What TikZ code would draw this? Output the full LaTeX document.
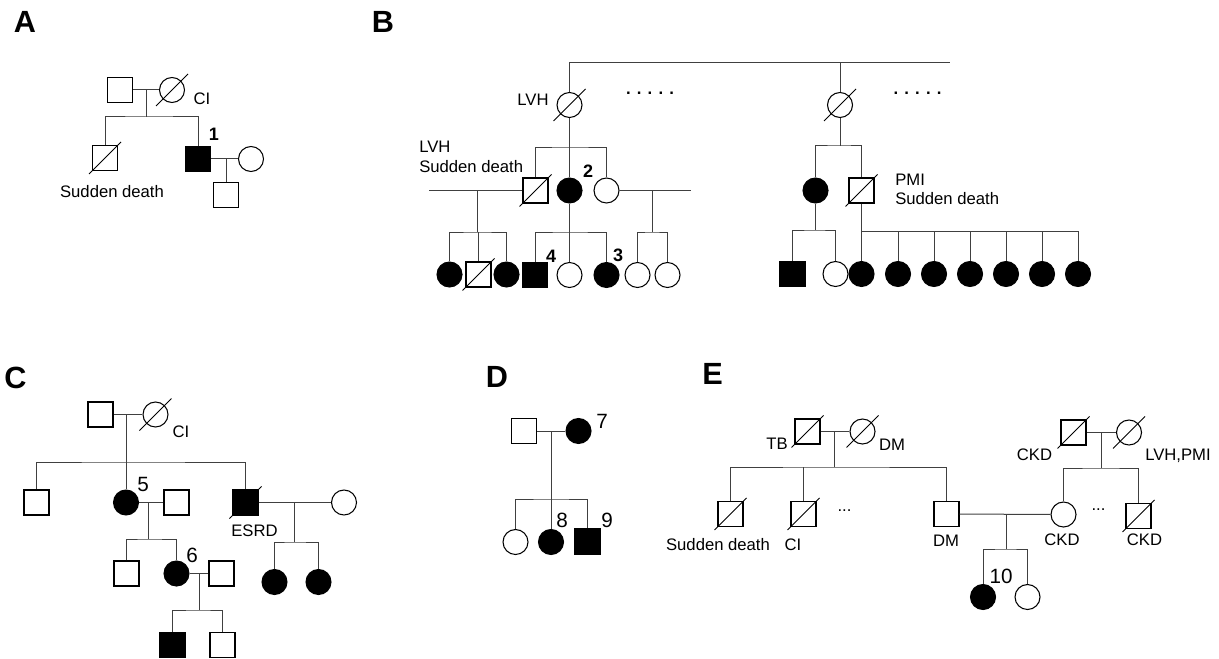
\documentclass[tikz,border=0pt]{standalone}
\usepackage{fontspec}
\setmainfont{Liberation Sans}
\tikzset{
  ind/.style={draw=black, line width=0.8pt, minimum size=18.75pt, inner sep=0pt},
  male/.style={ind, rectangle},
  female/.style={ind, circle},
  aff/.style={fill=black},
  conn/.style={draw=black!75, line width=0.75pt},
  slashline/.style={draw=black, line width=0.75pt},
  lbl/.style={font=\fontsize{12.5}{14}\selectfont, inner sep=0pt},
  num/.style={font=\fontsize{15.5}{17}\selectfont, inner sep=0pt},
  bnum/.style={font=\bfseries\fontsize{13.5}{15}\selectfont, inner sep=0pt},
  panel/.style={font=\bfseries\fontsize{23}{25}\selectfont, inner sep=0pt},
  bdots/.style={font=\bfseries\fontsize{12.5}{14}\selectfont, inner sep=0pt}
}
\newcommand{\deceased}[1]{\draw[slashline] ([shift={(-16,16)}]#1.center) -- ([shift={(16,-16)}]#1.center);}
\begin{document}
\begin{tikzpicture}[x=0.75pt,y=-0.75pt]
\useasboundingbox (0,0) rectangle (1219,659);
% ---------------- Panel A
\node[panel] (LA) at (25,21.5) {A};
\node[male] (a1) at (120,90) {};
\node[female] (a2) at (172,90) {};
\deceased{a2}
\node[lbl] (aCI) at (202,99) {CI};
\coordinate (am) at (146,90);
\coordinate (as) at (146,117);
\node[male] (a3) at (105,158) {};
\deceased{a3}
\node[male,aff] (a4) at (198,159) {};
\node[female] (a5) at (251,159) {};
\node[male] (a6) at (226,195) {};
\node[lbl] (aSD) at (112,192) {Sudden death};
\node[bnum] (a1n) at (214,134) {1};
\coordinate (am2) at (226,159);
\draw[conn] (a1) -- (a2);
\draw[conn] (am) -- (as);
\draw[conn] (a3.north) |- (as) -| (a4.north);
\draw[conn] (a4) -- (a5);
\draw[conn] (am2) -- (a6.north);
% ---------------- Panel B
\node[panel] (LB) at (383,21.5) {B};
\coordinate (btop) at (950,63);
\node[female] (b1) at (569.5,105) {};
\deceased{b1}
\node[lbl] (bLVH) at (533,100) {LVH};
\node[bdots] (bd1) at (650,93) {. . . . .};
\draw[conn] (b1.north) |- (btop);
\coordinate (bs1) at (569.5,148);
\node[male] (b2) at (535.5,190.5) {};
\deceased{b2}
\node[female,aff] (b3) at (569.5,190.5) {};
\node[female] (b4) at (606.5,190.5) {};
\node[bnum] (b2n) at (588,171) {2};
\node[lbl,anchor=west] (bL1) at (419,147) {LVH};
\node[lbl,anchor=west] (bL2) at (419,167) {Sudden death};
\draw[conn] (b1) -- (bs1);
\draw[conn] (b2.north) |- (bs1) -| (b4.north);
\draw[conn] (b3.north) -- (b3.north |- bs1);
% left family
\coordinate (bLf) at (429,190.5);
\coordinate (bLm) at (477,190.5);
\coordinate (bLs) at (477,232);
\draw[conn] (bLf) -- (b2);
\draw[conn] (bLm) -- (bLs);
\node[female,aff] (b5) at (449.5,274.5) {};
\node[male] (b6) at (478.5,274.5) {};
\deceased{b6}
\node[female,aff] (b7) at (506.5,274.5) {};
\draw[conn] (b5.north) |- (bLs) -| (b7.north);
\draw[conn] (b6.north) -- (b6.north |- bLs);
% middle family
\coordinate (bMs) at (569.5,232);
\node[male,aff] (b8) at (535,275) {};
\node[female] (b9) at (569.5,275) {};
\node[female,aff] (b10) at (606.5,275) {};
\node[bnum] (b4n) at (551,256) {4};
\node[bnum] (b3n) at (618,255) {3};
\draw[conn] (b3) -- (bMs);
\draw[conn] (b8.north) |- (bMs) -| (b10.north);
\draw[conn] (b9.north) -- (b9.north |- bMs);
% right family of b4
\coordinate (bRf) at (691,190.5);
\coordinate (bRm) at (652,190.5);
\coordinate (bRs) at (652,232);
\draw[conn] (b4) -- (bRf);
\draw[conn] (bRm) -- (bRs);
\node[female] (b11) at (637.5,275) {};
\node[female] (b12) at (667.5,275) {};
\draw[conn] (b11.north) |- (bRs) -| (b12.north);
% right branch
\node[female] (b13) at (840,105) {};
\deceased{b13}
\draw[conn] (b13.north) -- (b13.north |- btop);
\node[bdots] (bd2) at (917.5,93) {. . . . .};
\coordinate (bs2) at (840,146);
\node[female,aff] (b14) at (815.5,190.5) {};
\node[male] (b15) at (861.5,190.5) {};
\deceased{b15}
\node[lbl,anchor=west] (bP1) at (895,180) {PMI};
\node[lbl,anchor=west] (bP2) at (895,199) {Sudden death};
\draw[conn] (b13) -- (bs2);
\draw[conn] (b14.north) |- (bs2) -| (b15.north);
\coordinate (bs3) at (815.5,230);
\node[male,aff] (b16) at (792.5,274) {};
\node[female] (b17) at (835.5,274) {};
\draw[conn] (b14) -- (bs3);
\draw[conn] (b16.north) |- (bs3) -| (b17.north);
\coordinate (bs4) at (861.5,231);
\foreach \i/\x in {18/861.5,19/898,20/934,21/970,22/1006,23/1042,24/1078}{
  \node[female,aff] (b\i) at (\x,274) {};
}
\draw[conn] (b15) -- (b18);
\draw[conn] (bs4) -| (b24.north);
\foreach \i in {19,20,21,22,23}{
  \draw[conn] (b\i.north) -- (b\i.north |- bs4);
}
% ---------------- Panel C
\node[panel] (LC) at (15.5,377.5) {C};
\node[male] (c1) at (100.5,414.5) {};
\node[female] (c2) at (155.5,414.5) {};
\deceased{c2}
\node[lbl] (cCI) at (181,432) {CI};
\coordinate (cm1) at (126,414.5);
\coordinate (cs1) at (126,462);
\node[male] (c3) at (36.5,502.5) {};
\node[female,aff] (c4) at (126,502.5) {};
\node[male,aff] (c5) at (245.5,502.5) {};
\deceased{c5}
\node[lbl] (cES) at (254.5,531) {ESRD};
\node[num] (c5n) at (143,484) {5};
\draw[conn] (c1) -- (c2);
\draw[conn] (c3.north) |- (cs1) -| (c5.north);
\draw[conn] (cm1) -- (c4.north);
\node[male] (c6) at (176.5,502.5) {};
\coordinate (cm2) at (148,502.5);
\coordinate (cs2) at (148,539);
\draw[conn] (c4) -- (c6);
\draw[conn] (cm2) -- (cs2);
\node[male] (c7) at (126.5,573.5) {};
\node[female,aff] (c8) at (176.5,573.5) {};
\node[num] (c6n) at (192,555) {6};
\draw[conn] (c7.north) |- (cs2) -| (c8.north);
\node[male] (c9) at (221.5,573.5) {};
\coordinate (cm3) at (199,573.5);
\coordinate (cs3) at (199,610);
\draw[conn] (c8) -- (c9);
\draw[conn] (cm3) -- (cs3);
\node[male,aff] (c10) at (172.5,645) {};
\node[male] (c11) at (222.5,645) {};
\draw[conn] (c10.north) |- (cs3) -| (c11.north);
\node[female] (c12) at (344,502.5) {};
\coordinate (cm4) at (294,502.5);
\coordinate (cs4) at (294,542);
\draw[conn] (c5) -- (c12);
\draw[conn] (cm4) -- (cs4);
\node[female,aff] (c13) at (274.5,582) {};
\node[female,aff] (c14) at (318.5,582) {};
\draw[conn] (c13.north) |- (cs4) -| (c14.north);
% ---------------- Panel D
\node[panel] (LD) at (497,377) {D};
\node[male] (d1) at (524,431) {};
\node[female,aff] (d2) at (578.5,431) {};
\node[num] (d7n) at (602,421) {7};
\coordinate (dm) at (551,431);
\coordinate (ds) at (551,499);
\draw[conn] (d1) -- (d2);
\node[female] (d3) at (515.5,542) {};
\node[female,aff] (d4) at (551,542) {};
\node[male,aff] (d5) at (587.5,541.5) {};
\node[num] (d8n) at (562,520) {8};
\node[num] (d9n) at (607,520) {9};
\draw[conn] (dm) -- (d4.north);
\draw[conn] (d3.north) |- (ds) -| (d5.north);
% ---------------- Panel E
\node[panel] (LE) at (712.5,374) {E};
\node[male] (e1) at (807.5,431.5) {};
\deceased{e1}
\node[lbl] (eTB) at (777,444) {TB};
\node[female] (e2) at (862.5,431.5) {};
\deceased{e2}
\node[lbl] (eDM1) at (892,445) {DM};
\coordinate (em1) at (834,431.5);
\coordinate (es1) at (834,467);
\draw[conn] (e1) -- (e2);
\draw[conn] (em1) -- (es1);
\node[male] (e3) at (730.5,514) {};
\deceased{e3}
\node[male] (e4) at (803.5,514) {};
\deceased{e4}
\node[male] (e5) at (946.5,514) {};
\node[lbl] (eSD) at (718,545) {Sudden death};
\node[lbl] (eCI) at (793,545) {CI};
\node[lbl] (ed1) at (844.5,511) {...};
\node[lbl] (eDM2) at (946,541) {DM};
\draw[conn] (e3.north) |- (es1) -| (e5.north);
\draw[conn] (e4.north) -- (e4.north |- es1);
\node[female] (e6) at (1063.5,514.5) {};
\node[lbl] (eCKD1) at (1062,540) {CKD};
\coordinate (em2) at (1006,514.5);
\coordinate (es2) at (1006,549);
\draw[conn] (e5) -- (e6);
\draw[conn] (em2) -- (es2);
\node[female,aff] (e7) at (983,597) {};
\node[female] (e8) at (1027.5,597) {};
\node[num] (e10n) at (1001,576) {10};
\draw[conn] (e7.north) |- (es2) -| (e8.north);
\node[male] (e9) at (1073.5,432.5) {};
\deceased{e9}
\node[lbl] (eCKD2) at (1034.5,455) {CKD};
\node[female] (e10) at (1129,432.5) {};
\deceased{e10}
\node[lbl] (eLP) at (1178,456) {LVH,PMI};
\coordinate (em3) at (1101,432.5);
\coordinate (es3) at (1101,468);
\draw[conn] (e9) -- (e10);
\draw[conn] (em3) -- (es3);
\node[male] (e11) at (1138.5,516) {};
\deceased{e11}
\node[lbl] (ed2) at (1098.5,510) {...};
\node[lbl] (eCKD3) at (1144.5,540) {CKD};
\draw[conn] (e6.north) |- (es3) -| (e11.north);
\end{tikzpicture}
\end{document}
